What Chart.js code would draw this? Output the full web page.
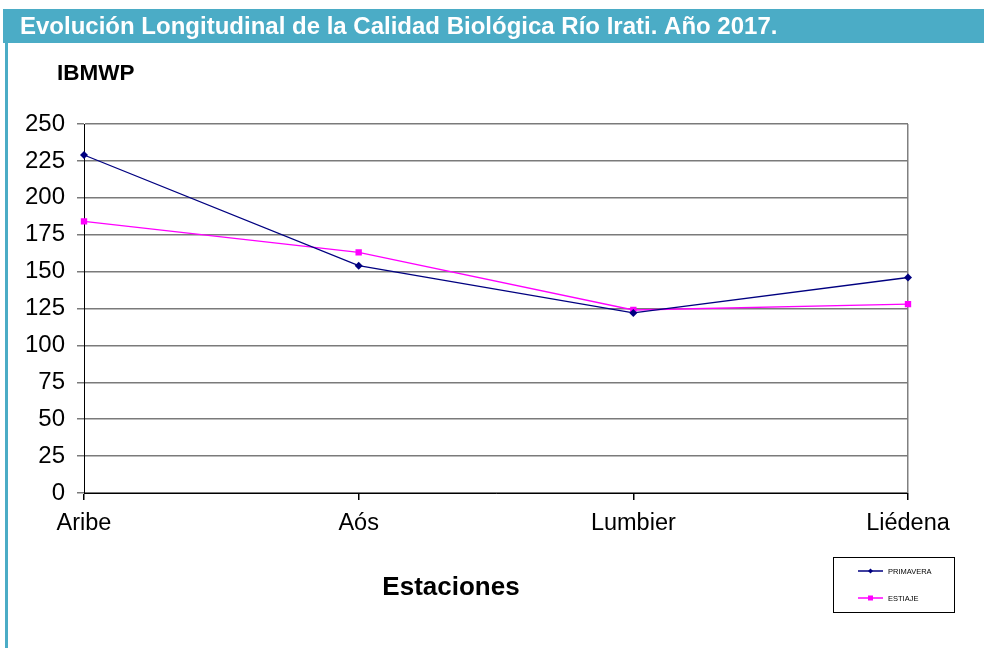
<!DOCTYPE html>
<html>
<head>
<meta charset="utf-8">
<title>IBMWP Río Irati 2017</title>
<script src="https://cdn.jsdelivr.net/npm/chart.js@4"></script>
<style>
    html, body { margin: 0; padding: 0; background: #fff; }
    canvas { display: block; }
</style>
</head>
<body>
<canvas id="grafico" width="984" height="648"></canvas>
<script>
// datos
var estaciones = ['Aribe', 'Aós', 'Lumbier', 'Liédena'];
var primavera = [229, 154, 122, 146];
var estiaje = [184, 163, 124, 128];
var ticksY = [0, 25, 50, 75, 100, 125, 150, 175, 200, 225, 250];

var fuente = '"Liberation Sans", Arial, sans-serif';

// cabecera, títulos y leyenda dibujados a mano
var decorado = {
    id: 'decorado',
    beforeDraw: function (chart) {
        var ctx = chart.ctx;
        ctx.save();
        ctx.fillStyle = '#4BACC6';
        ctx.fillRect(3, 9, 981, 34);
        ctx.fillRect(5, 9, 3, 639);
        ctx.restore();
    },
    afterDraw: function (chart) {
        var ctx = chart.ctx;
        ctx.save();
        ctx.textBaseline = 'middle';
        ctx.fillStyle = '#fff';
        ctx.font = 'bold 24px ' + fuente;
        ctx.textAlign = 'left';
        ctx.fillText('Evolución Longitudinal de la Calidad Biológica Río Irati. Año 2017.', 20, 27);

        ctx.fillStyle = '#000';
        ctx.font = 'bold 22.5px ' + fuente;
        ctx.fillText('IBMWP', 57, 74);
        ctx.textAlign = 'center';
        ctx.font = 'bold 26px ' + fuente;
        ctx.fillText('Estaciones', 451, 588);

        // leyenda
        ctx.strokeStyle = '#000';
        ctx.lineWidth = 1;
        ctx.strokeRect(833.5, 557.5, 121, 55);
        ctx.font = '7.5px ' + fuente;
        ctx.textAlign = 'left';
        var ds = chart.data.datasets;
        var filas = [571, 598];
        for (var i = 0; i < ds.length; i++) {
            var y = filas[i];
            ctx.strokeStyle = ds[i].borderColor;
            ctx.lineWidth = 1.5;
            ctx.beginPath();
            ctx.moveTo(858, y);
            ctx.lineTo(883, y);
            ctx.stroke();
            ctx.fillStyle = ds[i].borderColor;
            if (ds[i].pointStyle === 'rectRot') {
                ctx.beginPath();
                ctx.moveTo(870.5, y - 2.5);
                ctx.lineTo(873, y);
                ctx.lineTo(870.5, y + 2.5);
                ctx.lineTo(868, y);
                ctx.closePath();
                ctx.fill();
            } else {
                ctx.fillRect(868, y - 2.5, 5, 5);
            }
            ctx.fillStyle = '#000';
            ctx.fillText(ds[i].label, 888, y + 1);
        }
        ctx.restore();
    }
};

var ctxGrafico = document.getElementById('grafico').getContext('2d');
var grafico = new Chart(ctxGrafico, {
    type: 'line',
    data: {
        labels: estaciones,
        datasets: [{
            label: 'PRIMAVERA',
            data: primavera,
            borderColor: '#000080',
            backgroundColor: '#000080',
            borderWidth: 1.3,
            pointStyle: 'rectRot',
            pointRadius: 4,
            pointBorderWidth: 0,
            tension: 0
        }, {
            label: 'ESTIAJE',
            data: estiaje,
            borderColor: '#FF00FF',
            backgroundColor: '#FF00FF',
            borderWidth: 1.3,
            pointStyle: 'rect',
            pointRadius: 4.5,
            pointBorderWidth: 0,
            tension: 0
        }]
    },
    options: {
        responsive: false,
        animation: false,
        layout: {
            padding: { top: 124, right: 76, bottom: 0, left: 0 }
        },
        plugins: {
            legend: { display: false },
            tooltip: { enabled: false }
        },
        scales: {
            x: {
                offset: false,
                afterFit: function (scale) { scale.height = 155; },
                border: { display: true, color: '#000', width: 1 },
                grid: {
                    drawOnChartArea: true,
                    color: function (c) { return c.index === 3 ? '#808080' : 'rgba(0,0,0,0)'; },
                    tickColor: '#000',
                    tickLength: 7,
                    lineWidth: 1.5
                },
                ticks: {
                    color: '#000',
                    padding: 9,
                    font: { family: fuente, size: 23.5 },
                    maxRotation: 0
                }
            },
            y: {
                min: 0,
                max: 250,
                afterFit: function (scale) { scale.width = 84; },
                afterBuildTicks: function (scale) {
                    scale.ticks = ticksY.map(function (v) { return { value: v }; });
                },
                border: { display: true, color: '#000', width: 1 },
                grid: {
                    color: '#7a7a7a',
                    lineWidth: 1.5,
                    borderDash: [2, 1],
                    tickLength: 7,
                    tickColor: '#7a7a7a'
                },
                ticks: {
                    color: '#000',
                    padding: 12,
                    font: { family: fuente, size: 24 }
                }
            }
        }
    },
    plugins: [decorado]
});
</script>
</body>
</html>
